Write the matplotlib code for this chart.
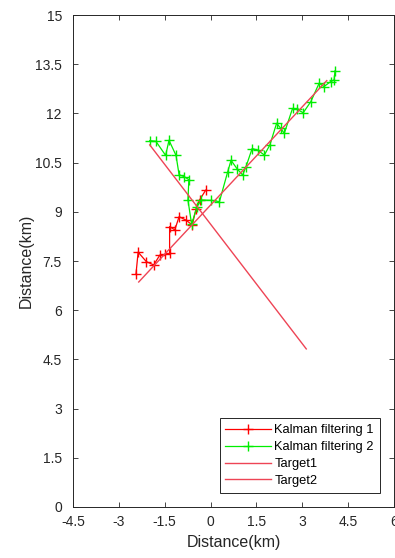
import matplotlib
matplotlib.use("Agg")
import matplotlib.pyplot as plt

plt.rcParams['font.family'] = ['Liberation Sans', 'DejaVu Sans']

# Kalman filtering 1 (red track)
kf1_x = [-2.44, -2.37, -2.10, -1.86, -1.66, -1.50, -1.34, -1.34, -1.17,
         -1.03, -0.81, -0.60, -0.47, -0.36, -0.16]
kf1_y = [7.10, 7.77, 7.48, 7.38, 7.68, 7.70, 7.73, 8.55, 8.45,
         8.85, 8.75, 8.60, 9.10, 9.36, 9.66]

# Kalman filtering 2 (green track)
kf2_x = [-1.99, -1.79, -1.47, -1.36, -1.13, -1.03, -0.86, -0.71, -0.74,
         -0.62, -0.45, -0.30, 0.02, 0.29, 0.56, 0.67, 0.86, 1.05, 1.16,
         1.36, 1.54, 1.76, 1.94, 2.16, 2.30, 2.41, 2.68, 2.84, 3.03, 3.28,
         3.55, 3.71, 3.93, 4.04, 4.07]
kf2_y = [11.17, 11.15, 10.72, 11.18, 10.72, 10.13, 10.07, 9.98, 9.36,
         8.62, 9.15, 9.36, 9.35, 9.31, 10.22, 10.57, 10.32, 10.12, 10.38,
         10.93, 10.88, 10.73, 11.04, 11.70, 11.54, 11.39, 12.15, 12.12, 12.02, 12.36,
         12.92, 12.82, 12.97, 13.02, 13.30]

# true target paths (start, end)
target1_x = [-2.35, 3.80]
target1_y = [6.86, 13.00]
target2_x = [-1.99, 3.13]
target2_y = [11.04, 4.82]

ticks = [-4.5, -3, -1.5, 0, 1.5, 3, 4.5, 6]
yticks = [0, 1.5, 3, 4.5, 6, 7.5, 9, 10.5, 12, 13.5, 15]
tick_labels = ['-4.5', '-3', '-1.5', '0', '1.5', '3', '4.5', '6']
ytick_labels = ['0', '1.5', '3', '4.5', '6', '7.5', '9', '10.5', '12', '13.5', '15']

fig = plt.figure(figsize=(3.95, 5.58), dpi=100)
ax = fig.add_axes([0.1848, 0.0914, 0.8127, 0.8817])

ax.plot(kf1_x, kf1_y, color='#ff0000', marker='+', markersize=7, lw=0.9,
        label='Kalman filtering 1')
ax.plot(kf2_x, kf2_y, color='#00ee00', marker='+', markersize=7, lw=0.9,
        label='Kalman filtering 2')
ax.plot(target1_x, target1_y, color='#ee4455', lw=1.0, label='Target1')
ax.plot(target2_x, target2_y, color='#ee4455', lw=1.0, label='Target2')

ax.set_xlim(-4.5, 6)
ax.set_ylim(0, 15)
ax.set_xticks(ticks)
ax.set_xticklabels(tick_labels)
ax.set_yticks(yticks)
ax.set_yticklabels(ytick_labels)

ax.tick_params(direction='in', length=3.5, width=0.6, top=True, right=True,
               labelsize=10, colors='#262626')
ax.tick_params(axis='x', pad=6)
ax.tick_params(axis='y', pad=8)
for s in ax.spines.values():
    s.set_color('#262626')
    s.set_linewidth(0.7)

ax.set_xlabel('Distance(km)', fontsize=11.5, color='#262626', labelpad=4)
ax.set_ylabel('Distance(km)', fontsize=11.5, color='#262626', labelpad=1)

leg = ax.legend(loc='lower right', fontsize=9.3, numpoints=1, handlelength=3.5,
                labelspacing=0.38, borderaxespad=1.1, handletextpad=0.3,
                borderpad=0.45, fancybox=False, framealpha=1)
leg.get_frame().set_edgecolor('#262626')
leg.get_frame().set_linewidth(0.7)

fig.savefig('out.png', dpi=100)
